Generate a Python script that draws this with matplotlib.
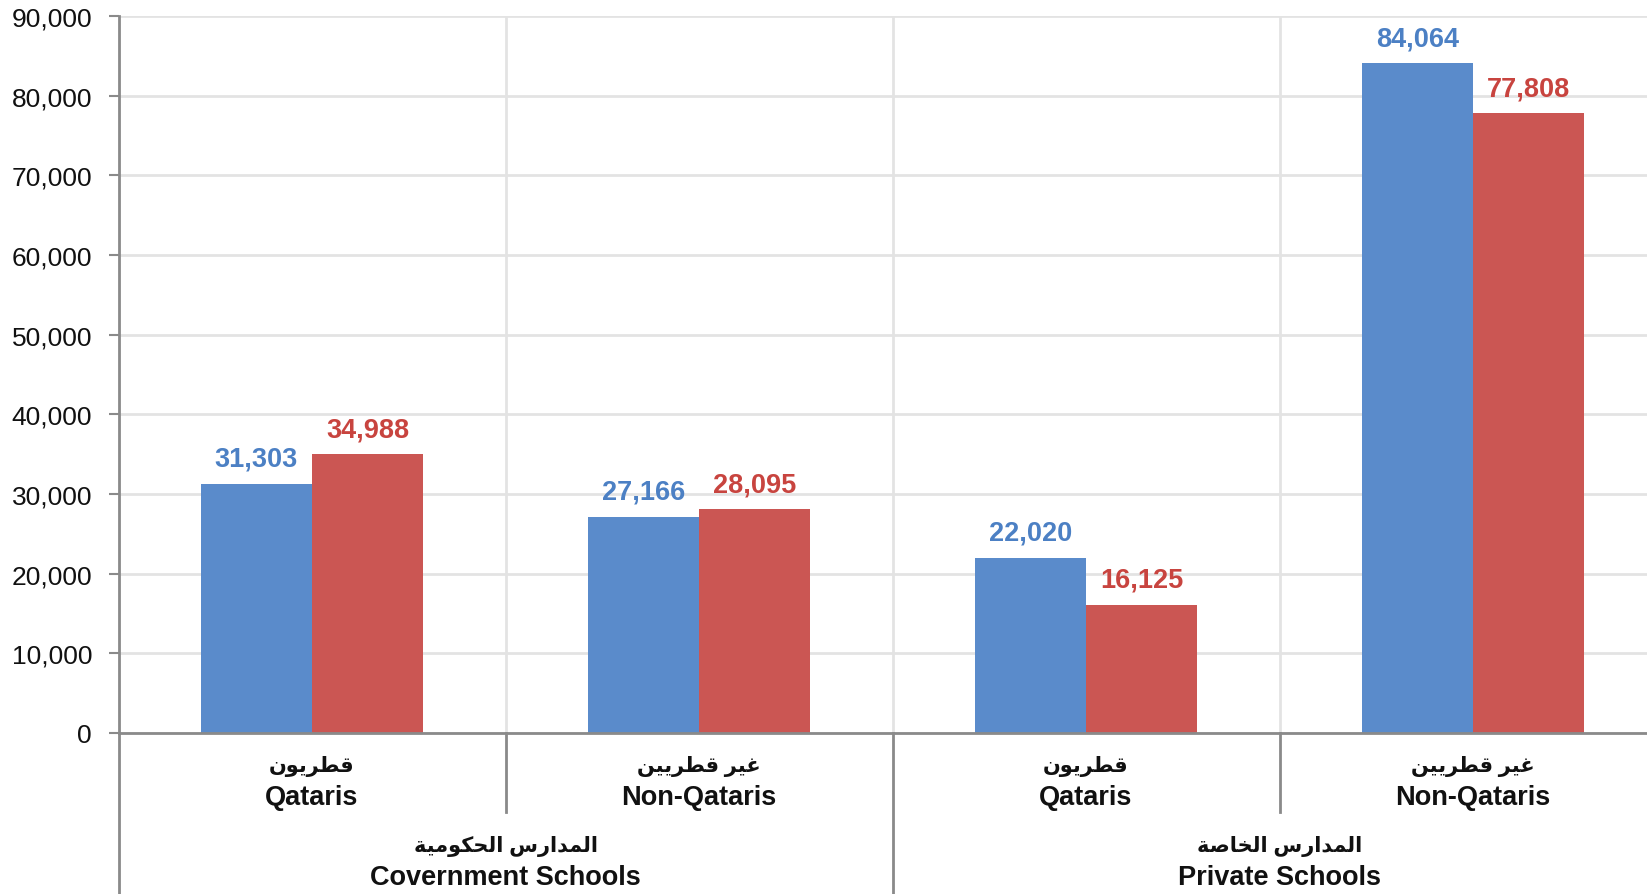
import matplotlib
matplotlib.use("Agg")
import matplotlib.pyplot as plt
import numpy as np

# data
categories_ar = ["قطريون", "غير قطريين", "قطريون", "غير قطريين"]
categories_en = ["Qataris", "Non-Qataris", "Qataris", "Non-Qataris"]
groups_ar = ["المدارس الحكومية", "المدارس الخاصة"]
groups_en = ["Covernment Schools", "Private Schools"]
blue_values = [31303, 27166, 22020, 84064]
red_values = [34988, 28095, 16125, 77808]
y_ticks = [0, 10000, 20000, 30000, 40000, 50000, 60000, 70000, 80000, 90000]

BLUE = "#5a8bcb"
RED = "#cb5653"
BLUE_TXT = "#4c80c4"
RED_TXT = "#c8443f"
AXIS = "#8a8a8a"
GRID = "#e3e3e3"

# arabic presentation forms: (isolated, final, initial, medial)
FORMS = {
    "ا": ("\uFE8D", "\uFE8E", None, None),
    "د": ("\uFEA9", "\uFEAA", None, None),
    "ر": ("\uFEAD", "\uFEAE", None, None),
    "و": ("\uFEED", "\uFEEE", None, None),
    "ة": ("\uFE93", "\uFE94", None, None),
    "ل": ("\uFEDD", "\uFEDE", "\uFEDF", "\uFEE0"),
    "م": ("\uFEE1", "\uFEE2", "\uFEE3", "\uFEE4"),
    "س": ("\uFEB1", "\uFEB2", "\uFEB3", "\uFEB4"),
    "ح": ("\uFEA1", "\uFEA2", "\uFEA3", "\uFEA4"),
    "ك": ("\uFED9", "\uFEDA", "\uFEDB", "\uFEDC"),
    "ي": ("\uFEF1", "\uFEF2", "\uFEF3", "\uFEF4"),
    "خ": ("\uFEA5", "\uFEA6", "\uFEA7", "\uFEA8"),
    "ص": ("\uFEB9", "\uFEBA", "\uFEBB", "\uFEBC"),
    "ق": ("\uFED5", "\uFED6", "\uFED7", "\uFED8"),
    "ط": ("\uFEC1", "\uFEC2", "\uFEC3", "\uFEC4"),
    "ن": ("\uFEE5", "\uFEE6", "\uFEE7", "\uFEE8"),
    "غ": ("\uFECD", "\uFECE", "\uFECF", "\uFED0"),
}


def shape(text):
    out = []
    for i, ch in enumerate(text):
        if ch not in FORMS:
            out.append(ch)
            continue
        iso, fin, ini, med = FORMS[ch]
        prev = text[i - 1] if i > 0 else None
        nxt = text[i + 1] if i < len(text) - 1 else None
        jp = prev in FORMS and FORMS[prev][2] is not None
        jn = ini is not None and nxt in FORMS
        if jp and jn:
            out.append(med)
        elif jp:
            out.append(fin)
        elif jn:
            out.append(ini)
        else:
            out.append(iso)
    return "".join(reversed(out))


plt.rcParams["font.family"] = ["Liberation Sans", "DejaVu Sans"]

fig = plt.figure(figsize=(16.47, 8.95), dpi=100)
ax = fig.add_axes([0.07195, 0.1799, 0.9399, 0.8011])

x = np.arange(len(blue_values))
w = 0.287
ax.bar(x - w / 2, blue_values, w, color=BLUE, zorder=3)
ax.bar(x + w / 2, red_values, w, color=RED, zorder=3)

for xi, v in zip(x, blue_values):
    ax.annotate(f"{v:,}", (xi - w / 2, v), xytext=(0, 13), textcoords="offset points",
                ha="center", va="baseline", fontsize=19.5, fontweight="bold", color=BLUE_TXT)
for xi, v in zip(x, red_values):
    ax.annotate(f"{v:,}", (xi + w / 2, v), xytext=(0, 13), textcoords="offset points",
                ha="center", va="baseline", fontsize=19.5, fontweight="bold", color=RED_TXT)

ax.set_xlim(-0.5, len(x) - 0.5)
ax.set_ylim(0, 90000)
ax.set_yticks(y_ticks)
ax.set_yticklabels([f"{t:,}" for t in y_ticks], fontsize=19, color="#111111")
ax.tick_params(axis="y", length=7, width=1.5, color=AXIS, pad=12)
ax.set_xticks([])

ax.grid(axis="y", color=GRID, linewidth=2, zorder=0)
for b in np.arange(0.5, len(x) - 0.5, 1):
    ax.axvline(b, color=GRID, linewidth=2, zorder=0)

for s in ["top", "right"]:
    ax.spines[s].set_visible(False)
for s in ["left", "bottom"]:
    ax.spines[s].set_color(AXIS)
    ax.spines[s].set_linewidth(2)
    ax.spines[s].set_zorder(4)

tr = ax.get_xaxis_transform()
# separators under the axis
ax.plot([-0.5, -0.5], [0, -0.25], color=AXIS, lw=2, transform=tr, clip_on=False)
for b in [0.5, 2.5]:
    ax.plot([b, b], [0, -0.110], color=AXIS, lw=2, transform=tr, clip_on=False)
ax.plot([1.5, 1.5], [0, -0.25], color=AXIS, lw=2, transform=tr, clip_on=False)

for xi, a, e in zip(x, categories_ar, categories_en):
    ax.text(xi, -0.053, shape(a), transform=tr, ha="center", va="baseline",
            fontsize=15, fontweight="bold", color="#111111")
    ax.text(xi, -0.099, e, transform=tr, ha="center", va="baseline",
            fontsize=19.5, fontweight="bold", color="#111111")

for gi, (a, e) in enumerate(zip(groups_ar, groups_en)):
    gx = gi * 2 + 0.5
    ax.text(gx, -0.1646, shape(a), transform=tr, ha="center", va="baseline",
            fontsize=15, fontweight="bold", color="#111111")
    ax.text(gx, -0.2106, e, transform=tr, ha="center", va="baseline",
            fontsize=19.5, fontweight="bold", color="#111111")

fig.savefig("out.png", dpi=100)
